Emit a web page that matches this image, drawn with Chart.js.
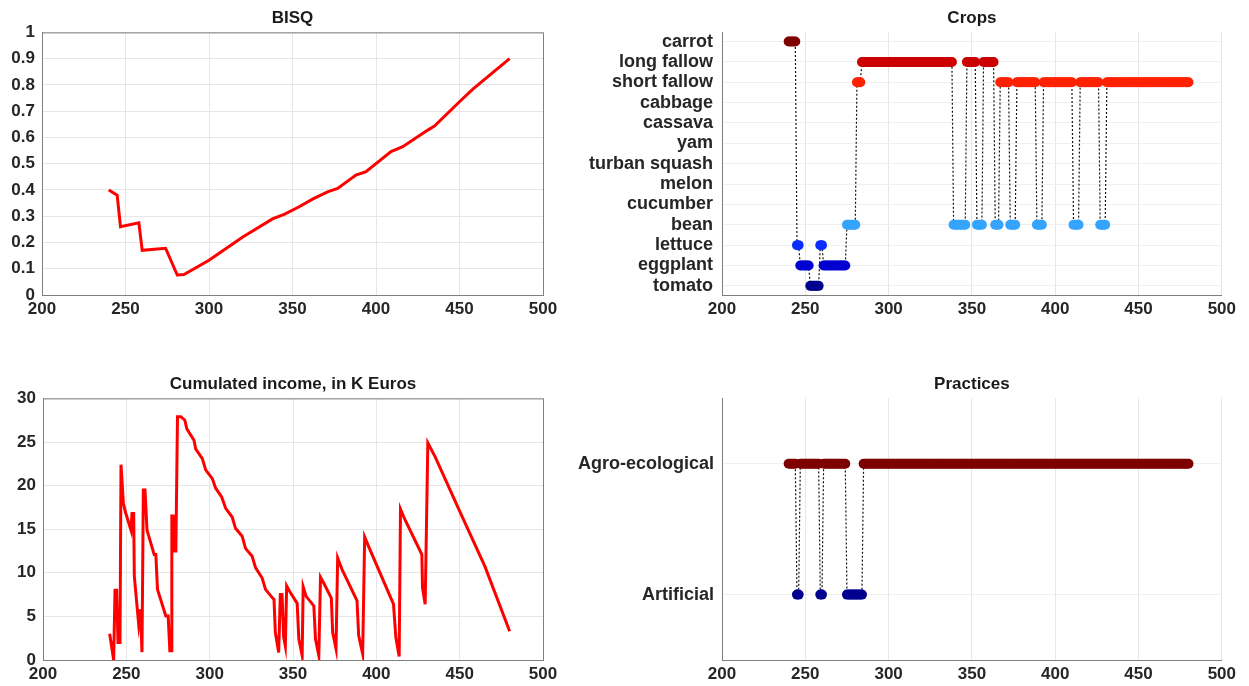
<!DOCTYPE html>
<html>
<head>
<meta charset="utf-8">
<script src="https://cdn.jsdelivr.net/npm/chart.js@4.4.1/dist/chart.umd.min.js"></script>
<style>
  body { margin: 0; background: #fff; width: 1249px; height: 686px; position: relative; overflow: hidden; }
  canvas { position: absolute; }
</style>
</head>
<body>
<canvas id="bisq" width="600" height="340" style="left:0;top:0"></canvas>
<canvas id="crops" width="680" height="340" style="left:560px;top:0"></canvas>
<canvas id="income" width="600" height="326" style="left:0;top:360px"></canvas>
<canvas id="practices" width="680" height="326" style="left:560px;top:360px"></canvas>
<script>
// BISQ
const bisqT = [240, 245, 247, 258, 260, 274, 281, 285, 300, 320, 338, 345, 354, 362, 371, 377, 388, 394, 409, 416, 431, 435, 450, 458, 480];
const bisqV = [0.40, 0.38, 0.26, 0.275, 0.17, 0.178, 0.076, 0.078, 0.132, 0.22, 0.29, 0.307, 0.336, 0.365, 0.393, 0.406, 0.457, 0.47, 0.546, 0.565, 0.628, 0.643, 0.736, 0.784, 0.90];

// cumulated income, K euros
const incomeT = [240, 242.4, 243.2, 244.2, 245, 246.2, 246.8, 248.2, 249.4, 252.8,
    253.4, 254.4, 254.8, 257.4, 258.4, 259.4, 260.2, 261.2, 262.4, 266.7,
    267.7, 268.7, 273.7, 275.1, 276.1, 276.9, 277.3, 278.1, 278.7, 279.7,
    280.7, 282.7, 285.1, 286.3, 290.6, 291.6, 295.6, 297.6, 301.6, 303.6,
    307.2, 309.6, 313.5, 315.5, 319.5, 321.5, 325.5, 327.5, 331.5, 333.5,
    337.8, 338.6, 339.4, 341.4, 342.4, 343.4, 344.4, 345.4, 346.2, 348.5,
    352.5, 353.5, 355.5, 356.1, 357.9, 362.5, 363.5, 365.5, 366.5, 368.5,
    373.0, 373.8, 375.8, 376.8, 379.4, 388.4, 389.4, 391.8, 393.0, 395.4,
    410.3, 411.7, 413.7, 414.5, 416.9, 426.3, 427.3, 427.7, 429.3, 430.9,
    435.3, 450.2, 465.2, 480];
const incomeV = [3.0, 0, 8.0, 8.0, 2.0, 2.0, 22.4, 18.0, 17.0, 14.9,
    16.8, 16.8, 9.6, 4.1, 5.8, 0.9, 19.5, 19.5, 14.9, 12.1,
    12.1, 8.1, 5.05, 5.05, 1.06, 1.06, 16.5, 16.5, 12.5, 12.5,
    27.9, 27.9, 27.5, 26.5, 25.2, 24.2, 23.1, 21.8, 20.8, 19.7,
    18.7, 17.4, 16.4, 15.1, 14.2, 12.8, 11.9, 10.6, 9.4, 8.1,
    7.1, 6.95, 3.15, 0.87, 7.5, 7.5, 2.6, 1.6, 8.5, 7.7,
    6.5, 2.4, 0.5, 8.4, 7.3, 6.2, 2.4, 0.5, 9.5, 8.8,
    7.1, 3.15, 1.3, 11.7, 10.4, 6.8, 2.8, 0.7, 14.1, 13.0,
    6.4, 2.6, 0.4, 17.3, 16.2, 12.5, 12.1, 8.3, 6.4, 24.9,
    23.3, 17.0, 10.7, 3.3];

// crops, bottom to top
const cropNames = ['tomato', 'eggplant', 'lettuce', 'bean', 'cucumber', 'melon', 'turban squash', 'yam', 'cassava', 'cabbage', 'short fallow', 'long fallow', 'carrot'];
const cropColors = ['#00008f', '#0000d0', '#0a2cff', '#35a4ff', '#39c', '#6c6', '#9c3', '#cc3', '#fc0', '#f90', '#ff2200', '#cc0000', '#7f0000'];
const cropSegStart = [240, 245, 247, 253, 259, 261, 275, 281, 284, 339, 347, 353, 357, 364, 367, 373, 377, 389, 393, 411, 415, 427, 431];
const cropSegEnd   = [244, 246, 252, 258, 260, 274, 280, 283, 338, 346, 352, 356, 363, 366, 372, 376, 388, 392, 410, 414, 426, 430, 480];
const cropSegName  = ['carrot', 'lettuce', 'eggplant', 'tomato', 'lettuce', 'eggplant', 'bean', 'short fallow', 'long fallow',
    'bean', 'long fallow', 'bean', 'long fallow', 'bean', 'short fallow', 'bean', 'short fallow', 'bean',
    'short fallow', 'bean', 'short fallow', 'bean', 'short fallow'];

// practices, bottom to top
const practiceNames = ['Artificial', 'Agro-ecological'];
const practiceColors = ['#00008f', '#7f0000'];
const pracSegStart = [240, 245, 247, 259, 261, 275, 285];
const pracSegEnd   = [244, 246, 258, 260, 274, 284, 480];
const pracSegName  = ['Agro-ecological', 'Artificial', 'Agro-ecological', 'Artificial', 'Agro-ecological', 'Artificial', 'Agro-ecological'];

const xTicks = [200, 250, 300, 350, 400, 450, 500];

Chart.defaults.font.family = '"Liberation Sans", Arial, Helvetica, sans-serif';
Chart.defaults.font.size = 17;
Chart.defaults.font.weight = 'bold';
Chart.defaults.color = '#262626';

const gridColor = '#e6e6e6';
const axisColor = '#7f7f7f';

// month by month points from the segments
function expand(starts, ends, names, list) {
    const pts = [];
    for (let i = 0; i < starts.length; i++) {
        for (let t = starts[i]; t <= ends[i]; t++) {
            pts.push({ x: t, y: list.indexOf(names[i]) });
        }
    }
    return pts;
}

const boxPlugin = {
    id: 'box',
    beforeDatasetsDraw(chart) {
        const a = chart.chartArea;
        const c = chart.ctx;
        c.save();
        c.strokeStyle = axisColor;
        c.lineWidth = 1;
        c.strokeRect(a.left + 0.5, a.top + 0.5, a.right - a.left, a.bottom - a.top);
        c.restore();
    }
};

function xAxis(h) {
    return {
        type: 'linear',
        min: 200,
        max: 500,
        afterBuildTicks: (s) => { s.ticks = xTicks.map(v => ({ value: v })); },
        afterFit: (s) => { s.height = h; },
        grid: { color: gridColor, drawTicks: false },
        border: { color: axisColor },
        ticks: { padding: 4, autoSkip: false, maxRotation: 0 }
    };
}

function titleOpts(text, top) {
    return {
        display: true,
        text: text,
        fullSize: false,
        font: { size: 17, weight: 'bold' },
        color: '#1a1a1a',
        padding: { top: top, bottom: 4 }
    };
}

const baseOptions = {
    responsive: false,
    animation: false,
    events: [],
    layout: { padding: { left: 0, right: 17, top: 0, bottom: 0 } }
};

// BISQ
new Chart(document.getElementById('bisq').getContext('2d'), {
    type: 'scatter',
    data: {
        datasets: [{
            data: bisqT.map((t, i) => ({ x: t, y: bisqV[i] })),
            showLine: true,
            borderColor: '#ff0000',
            borderWidth: 3,
            pointRadius: 0
        }]
    },
    options: {
        ...baseOptions,
        layout: { padding: { right: 57 } },
        plugins: { legend: { display: false }, tooltip: { enabled: false }, title: titleOpts('BISQ', 8) },
        scales: {
            x: xAxis(45),
            y: {
                min: 0,
                max: 1,
                afterFit: (s) => { s.width = 42; },
                grid: { color: gridColor, drawTicks: false },
                border: { color: axisColor },
                ticks: { stepSize: 0.1, padding: 7, autoSkip: false, callback: (v) => Math.round(v * 10) / 10 }
            }
        }
    },
    plugins: [boxPlugin]
});

// Crops
const cropPts = expand(cropSegStart, cropSegEnd, cropSegName, cropNames);
new Chart(document.getElementById('crops').getContext('2d'), {
    type: 'scatter',
    data: {
        datasets: [{
            data: cropPts,
            showLine: true,
            borderColor: '#111111',
            borderWidth: 1.2,
            borderDash: [2, 2],
            pointRadius: 5,
            pointBorderWidth: 0,
            pointBackgroundColor: cropPts.map(p => cropColors[p.y])
        }]
    },
    options: {
        ...baseOptions,
        plugins: { legend: { display: false }, tooltip: { enabled: false }, title: titleOpts('Crops', 8) },
        scales: {
            x: xAxis(45),
            y: {
                min: -0.45,
                max: 12.45,
                afterBuildTicks: (s) => { s.ticks = cropNames.map((n, i) => ({ value: i })); },
                afterFit: (s) => { s.width = 162; },
                grid: { color: '#f0f0f0', drawTicks: false },
                border: { color: axisColor },
                ticks: { padding: 9, autoSkip: false, font: { size: 18 }, callback: (v) => cropNames[v] }
            }
        }
    }
});

// Cumulated income
new Chart(document.getElementById('income').getContext('2d'), {
    type: 'scatter',
    data: {
        datasets: [{
            data: incomeT.map((t, i) => ({ x: t, y: incomeV[i] })),
            showLine: true,
            borderColor: '#ff0000',
            borderWidth: 3,
            pointRadius: 0
        }]
    },
    options: {
        ...baseOptions,
        layout: { padding: { right: 57 } },
        plugins: { legend: { display: false }, tooltip: { enabled: false }, title: titleOpts('Cumulated income, in K Euros', 14) },
        scales: {
            x: xAxis(26),
            y: {
                min: 0,
                max: 30,
                afterFit: (s) => { s.width = 43; },
                grid: { color: gridColor, drawTicks: false },
                border: { color: axisColor },
                ticks: { stepSize: 5, padding: 7, autoSkip: false }
            }
        }
    },
    plugins: [boxPlugin]
});

// Practices
const pracPts = expand(pracSegStart, pracSegEnd, pracSegName, practiceNames).map(p => ({ x: p.x, y: p.y + 1 }));
new Chart(document.getElementById('practices').getContext('2d'), {
    type: 'scatter',
    data: {
        datasets: [{
            data: pracPts,
            showLine: true,
            borderColor: '#111111',
            borderWidth: 1.2,
            borderDash: [2, 2],
            pointRadius: 5,
            pointBorderWidth: 0,
            pointBackgroundColor: pracPts.map(p => practiceColors[p.y - 1])
        }]
    },
    options: {
        ...baseOptions,
        plugins: { legend: { display: false }, tooltip: { enabled: false }, title: titleOpts('Practices', 14) },
        scales: {
            x: xAxis(26),
            y: {
                min: 0.5,
                max: 2.5,
                afterBuildTicks: (s) => { s.ticks = practiceNames.map((n, i) => ({ value: i + 1 })); },
                afterFit: (s) => { s.width = 162; },
                grid: { color: '#f0f0f0', drawTicks: false },
                border: { color: axisColor },
                ticks: { padding: 8, autoSkip: false, font: { size: 18 }, callback: (v) => practiceNames[v - 1] }
            }
        }
    }
});
</script>
</body>
</html>
